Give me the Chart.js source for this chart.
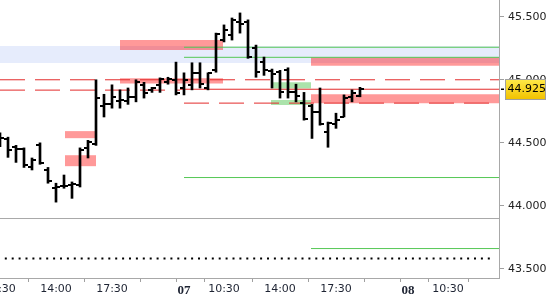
<!DOCTYPE html>
<html>
<head>
<meta charset="utf-8">
<script src="https://cdn.jsdelivr.net/npm/chart.js@4.4.1/dist/chart.umd.min.js"></script>
<style>
  html, body { margin: 0; padding: 0; background: #fff; }
  #wrap { width: 550px; height: 300px; position: relative; }
</style>
</head>
<body>
<div id="wrap"><canvas id="chart"></canvas></div>
<script>
// Half hour OHLC bars, day 06 10:30 to day 07 19:00 (night hours are not drawn)
const times = [
  "06 10:30", "06 11:00", "06 11:30", "06 12:00", "06 12:30", "06 13:00", "06 13:30", "06 14:00",
  "06 14:30", "06 15:00", "06 15:30", "06 16:00", "06 16:30", "06 17:00", "06 17:30", "06 18:00",
  "06 18:30", "06 19:00", "06 19:30", "06 20:00", "06 20:30", "06 21:00", "06 21:30",
  "07 08:00", "07 08:30", "07 09:00", "07 09:30", "07 10:00", "07 10:30", "07 11:00", "07 11:30",
  "07 12:00", "07 12:30", "07 13:00", "07 13:30", "07 14:00", "07 14:30", "07 15:00", "07 15:30",
  "07 16:00", "07 16:30", "07 17:00", "07 17:30", "07 18:00", "07 18:30", "07 19:00"
];
const opens = [44.52, 44.53, 44.465, 44.45, 44.305, 44.48, 44.285, 44.14, 44.155, 44.165, 44.165, 44.46, 44.49, 44.79, 44.805, 44.83, 44.83, 44.865, 44.96, 44.92, 44.96, 44.98, 45.00,
  44.935, 44.96, 45.055, 44.935, 45.075, 45.315, 45.355, 45.46, 45.46, 45.25, 45.14, 45.07, 45.06, 45.075, 44.90, 44.815, 44.79, 44.745, 44.585, 44.65, 44.705, 44.865, 44.87];
const highs = [44.58, 44.545, 44.48, 44.46, 44.38, 44.50, 44.305, 44.18, 44.245, 44.19, 44.46, 44.52, 45.00, 44.885, 44.96, 44.92, 44.935, 45.00, 44.98, 44.94, 45.015, 45.02, 45.14,
  45.055, 45.135, 45.135, 45.055, 45.37, 45.435, 45.49, 45.53, 45.475, 45.275, 45.18, 45.085, 45.075, 45.095, 44.965, 44.90, 44.805, 44.935, 44.665, 44.735, 44.88, 44.92, 44.94];
const lows = [44.47, 44.385, 44.345, 44.305, 44.285, 44.33, 44.18, 44.03, 44.14, 44.06, 44.15, 44.38, 44.48, 44.705, 44.775, 44.775, 44.805, 44.825, 44.855, 44.90, 44.90, 44.965, 44.88,
  44.88, 44.92, 44.935, 44.92, 45.06, 45.30, 45.315, 45.37, 45.17, 45.02, 45.035, 44.935, 44.855, 44.855, 44.825, 44.68, 44.535, 44.64, 44.465, 44.615, 44.705, 44.825, 44.865];
const closes = [44.54, 44.44, 44.45, 44.325, 44.365, 44.34, 44.195, 44.15, 44.155, 44.17, 44.44, 44.505, 44.855, 44.805, 44.865, 44.84, 44.865, 44.98, 44.895, 44.935, 45.005, 45.005, 44.895,
  45.00, 45.055, 44.965, 45.055, 45.365, 45.395, 45.475, 45.44, 45.18, 45.06, 45.075, 45.045, 44.90, 44.90, 44.87, 44.69, 44.745, 44.65, 44.655, 44.68, 44.855, 44.895, 44.925];

// Time axis ticks (slot numbers, one slot = 30 min), empty text = tick mark only
const tickSlots = [0, 7, 14, 21, 23, 28, 35, 42, 49, 51, 56];
const tickTexts = ["10:30", "14:00", "17:30", "", "07", "10:30", "14:00", "17:30", "", "08", "10:30"];
const priceTicks = [43.5, 44.0, 44.5, 45.0, 45.5];

// Visible range of the chart
const X_MIN = 0, X_MAX = 62.375;
const Y_MIN = 43.4285, Y_MAX = 45.6325;

// Price zones: kind, top, bottom, from slot, to slot
const zoneKinds = ["blue", "red", "red", "red", "red", "red", "red", "green", "green"];
const zoneTops = [45.267, 45.315, 45.013, 44.593, 44.402, 45.178, 44.886, 44.98, 44.84];
const zoneBottoms = [45.133, 45.236, 44.97, 44.537, 44.315, 45.111, 44.814, 44.93, 44.80];
const zoneFrom = [X_MIN, 15, 15, 8.125, 8.125, 38.875, 38.875, 33.875, 33.875];
const zoneTo = [X_MAX, 27.875, 27.875, 12, 12, X_MAX, X_MAX, 38.875, 38.875];

// Horizontal levels: kind, price, from slot, to slot
const levelKinds = ["redDash", "redDash", "red", "redDash", "green", "green", "green", "green", "gray", "dots"];
const levelPrices = [45.00, 44.918, 44.925, 44.815, 45.258, 45.178, 44.225, 43.662, 43.90, 43.5825];
const levelFrom = [X_MIN, X_MIN, 22.5, 23, 23, 23, 23, 38.875, X_MIN, 0.6];
const levelTo = [X_MAX, 22.5, X_MAX, X_MAX, X_MAX, X_MAX, X_MAX, X_MAX, X_MAX, 61.7];

const zoneColors = { blue: "#e6ecfc", red: "rgba(255,0,0,0.4)", green: "rgba(0,170,0,0.33)" };
const levelStyles = {
  redDash: { color: "#e32b2b", width: 1, dash: [25, 10] },
  red: { color: "#e32b2b", width: 1, dash: [] },
  green: { color: "#55c855", width: 1, dash: [] },
  gray: { color: "#a8a8a8", width: 1, dash: [] },
  dots: { color: "#000", width: 2, dash: [2, 4.9] }
};

// Small canvases used as point styles for the open (left) and close (right) ticks
function make_tick_mark(side) {
  const c = document.createElement("canvas");
  c.width = 8; c.height = 2;
  const g = c.getContext("2d");
  g.fillStyle = "#000";
  g.fillRect(side === "left" ? 0 : 4, 0, 4, 2);
  return c;
}

const datasets = [];

// zones go at the back
zoneKinds.forEach((k, i) => {
  datasets.push({
    type: "line",
    data: [{ x: zoneFrom[i], y: zoneTops[i] }, { x: zoneTo[i], y: zoneTops[i] }],
    borderWidth: 0,
    pointRadius: 0,
    fill: { value: zoneBottoms[i] },
    backgroundColor: zoneColors[k],
    order: k === "blue" ? 5 : 4
  });
});

levelKinds.forEach((k, i) => {
  const st = levelStyles[k];
  datasets.push({
    type: "line",
    data: [{ x: levelFrom[i], y: levelPrices[i] }, { x: levelTo[i], y: levelPrices[i] }],
    borderColor: st.color,
    borderWidth: st.width,
    borderDash: st.dash,
    borderCapStyle: "butt",
    pointRadius: 0,
    fill: false,
    order: 3
  });
});

// high-low stems
datasets.push({
  type: "bar",
  data: times.map((t, i) => ({ x: i, y: [lows[i], highs[i]] })),
  backgroundColor: "#000",
  barThickness: 2,
  grouped: false,
  order: 1
});
// open and close ticks
datasets.push({
  type: "scatter",
  data: times.map((t, i) => ({ x: i, y: opens[i] })),
  pointStyle: make_tick_mark("left"),
  pointRadius: 4,
  order: 0
});
datasets.push({
  type: "scatter",
  data: times.map((t, i) => ({ x: i, y: closes[i] })),
  pointStyle: make_tick_mark("right"),
  pointRadius: 4,
  order: 0
});

// Yellow tag with the last price on the right axis
const lastPriceTag = {
  id: "lastPriceTag",
  afterDraw(chart) {
    const { ctx, chartArea } = chart;
    const last = closes[closes.length - 1];
    const py = Math.round(chart.scales.y.getPixelForValue(last));
    ctx.save();
    ctx.fillStyle = "#000";
    ctx.fillRect(chartArea.right + 2, py - 0.5, 3, 1.5);
    const grad = ctx.createLinearGradient(0, py - 10, 0, py + 10);
    grad.addColorStop(0, "#ffea4a");
    grad.addColorStop(1, "#f2c200");
    ctx.fillStyle = grad;
    ctx.fillRect(chartArea.right + 6.5, py - 9.5, 40, 20);
    ctx.strokeStyle = "#a0a0a0";
    ctx.lineWidth = 1;
    ctx.strokeRect(chartArea.right + 6.5, py - 9.5, 40, 20);
    ctx.fillStyle = "#000";
    ctx.font = "11px 'DejaVu Sans'";
    ctx.textBaseline = "middle";
    ctx.fillText(last.toFixed(3), chartArea.right + 8.5, py + 0.5);
    ctx.restore();
  }
};

const chart = new Chart(document.getElementById("chart").getContext("2d"), {
  type: "bar",
  data: { datasets: datasets },
  plugins: [lastPriceTag],
  options: {
    responsive: true,
    maintainAspectRatio: false,
    animation: false,
    // no extra room for the point styles at the edges
    layout: { padding: 0, autoPadding: false },
    plugins: { legend: { display: false }, tooltip: { enabled: false } },
    scales: {
      x: {
        type: "linear",
        min: X_MIN,
        max: X_MAX,
        offset: false,
        grid: { drawOnChartArea: false, tickLength: 4, color: "#a0a0a0" },
        border: { color: "#a8a8a8" },
        afterBuildTicks: (s) => { s.ticks = tickSlots.map(v => ({ value: v })); },
        afterFit: (s) => { s.height = 22; s.paddingLeft = 0; s.paddingRight = 0; },
        ticks: {
          autoSkip: false,
          maxRotation: 0,
          padding: 1,
          color: "#1e2433",
          font: (ctx) => {
            const lbl = ctx.tick ? ctx.tick.label : "";
            if (lbl && lbl.indexOf(":") < 0) return { family: "'Liberation Serif'", size: 13, weight: "bold" };
            return { family: "'DejaVu Sans'", size: 11 };
          },
          callback: (v) => {
            const k = tickSlots.indexOf(v);
            return k >= 0 ? tickTexts[k] : "";
          }
        }
      },
      y: {
        position: "right",
        min: Y_MIN,
        max: Y_MAX,
        grid: { drawOnChartArea: false, tickLength: 5, color: "#a0a0a0" },
        border: { color: "#a8a8a8" },
        afterBuildTicks: (s) => { s.ticks = priceTicks.map(v => ({ value: v })); },
        afterFit: (s) => { s.width = 51; s.paddingTop = 0; s.paddingBottom = 0; },
        ticks: {
          padding: 4,
          color: "#222",
          font: { family: "'DejaVu Sans'", size: 11 },
          callback: (v) => Number(v).toFixed(3)
        }
      }
    }
  }
});
</script>
</body>
</html>
